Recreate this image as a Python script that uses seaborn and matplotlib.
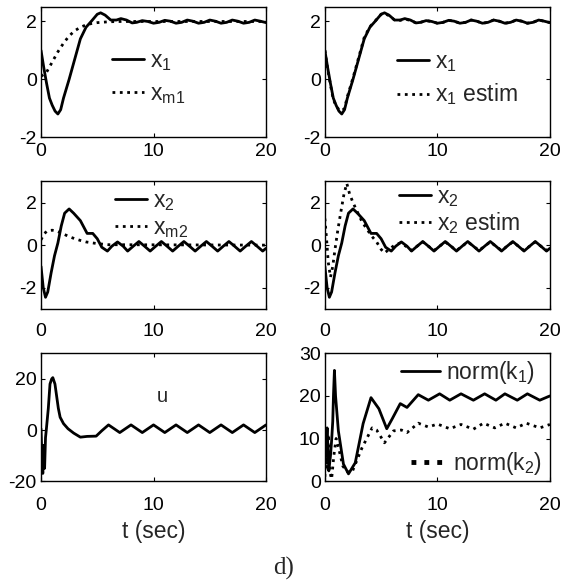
import matplotlib
matplotlib.use("Agg")
import matplotlib.pyplot as plt
import seaborn as sns
from matplotlib.lines import Line2D

# ---- data ----
# x1 and its estimate (top row)
t_x1 = [0, 0.25, 0.5, 0.75, 1.0, 1.25, 1.5, 1.75, 2.0, 2.5, 3.0, 3.5, 4.0, 4.5, 5.0, 5.3,
        5.7, 6.2, 6.7, 7.1, 7.6, 8.1, 8.5, 9.0, 9.5, 10.0, 10.5, 11.0, 11.5, 12.0, 12.5,
        13.0, 13.5, 14.0, 14.5, 15.0, 15.5, 16.0, 16.5, 17.0, 17.5, 18.0, 18.5, 19.0, 19.5, 20.0]
x1 = [1.0, 0.4, -0.15, -0.65, -0.9, -1.1, -1.2, -1.05, -0.65, 0.0, 0.7, 1.4, 1.8, 2.02, 2.25, 2.3,
      2.22, 2.05, 2.05, 2.1, 2.05, 1.95, 1.97, 2.03, 2.0, 1.94, 1.97, 2.04, 2.01, 1.94, 1.97,
      2.05, 2.01, 1.94, 1.97, 2.05, 2.01, 1.94, 1.97, 2.05, 2.01, 1.94, 1.97, 2.05, 2.01, 1.96]
x1_est = [1.0, 0.35, -0.2, -0.7, -0.92, -1.05, -1.1, -1.0, -0.6, 0.05, 0.75, 1.45, 1.82, 2.03, 2.25, 2.28,
          2.2, 2.05, 2.04, 2.08, 2.04, 1.95, 1.97, 2.03, 2.0, 1.94, 1.97, 2.04, 2.01, 1.94, 1.97,
          2.05, 2.01, 1.94, 1.97, 2.05, 2.01, 1.94, 1.97, 2.05, 2.01, 1.94, 1.97, 2.05, 2.01, 1.96]
t_xm1 = [0, 0.5, 1.0, 1.5, 2.0, 2.5, 3.0, 3.5, 4.0, 4.5, 5.0, 6.0, 7.0, 20.0]
xm1 = [0.1, 0.25, 0.6, 0.95, 1.25, 1.5, 1.68, 1.8, 1.88, 1.93, 1.96, 1.99, 2.0, 2.0]

# x2 and its estimate (middle row)
t_x2 = [0, 0.2, 0.4, 0.6, 0.9, 1.2, 1.5, 1.8, 2.1, 2.5, 2.9, 3.5, 4.1, 4.6, 5.0, 5.4, 5.9,
        6.3, 6.8, 7.3, 7.7, 8.2, 8.7, 9.2, 9.7, 10.2, 10.7, 11.2, 11.7, 12.2, 12.7, 13.2,
        13.7, 14.2, 14.7, 15.2, 15.7, 16.2, 16.7, 17.2, 17.7, 18.2, 18.7, 19.2, 19.7, 20.0]
x2 = [-1.0, -2.0, -2.45, -2.2, -1.3, -0.5, 0.1, 0.9, 1.5, 1.7, 1.5, 1.15, 0.55, 0.55, 0.3, -0.1, -0.28,
      -0.05, 0.15, -0.05, -0.28, -0.05, 0.17, -0.05, -0.28, -0.05, 0.17, -0.05, -0.28, -0.05, 0.17, -0.05,
      -0.28, -0.05, 0.17, -0.05, -0.28, -0.05, 0.17, -0.05, -0.28, -0.05, 0.17, -0.05, -0.28, -0.15]
t_xm2 = [0, 0.3, 0.6, 1.0, 1.4, 2.0, 2.5, 3.0, 3.5, 4.0, 5.0, 6.0, 20.0]
xm2 = [0.25, 0.55, 0.68, 0.7, 0.66, 0.52, 0.4, 0.3, 0.22, 0.15, 0.07, 0.02, 0.0]
t_x2e = [0, 0.15, 0.3, 0.5, 0.7, 0.9, 1.15, 1.4, 1.7, 1.95, 2.2, 2.5, 2.85, 3.3, 3.8, 4.2, 4.6,
         5.0, 5.3, 5.7, 6.2, 6.7, 7.2, 7.7, 8.2, 8.7, 9.2, 9.7, 10.2, 10.7, 11.2, 11.7, 12.2,
         12.7, 13.2, 13.7, 14.2, 14.7, 15.2, 15.7, 16.2, 16.7, 17.2, 17.7, 18.2, 18.7, 19.2, 19.7, 20.0]
x2_est = [1.25, 0.3, -0.8, -1.5, -1.0, -0.2, 0.7, 1.5, 2.4, 2.9, 2.4, 2.0, 1.6, 1.1, 0.7, 0.4, 0.15,
          -0.2, -0.37, -0.2, 0.0, 0.1, -0.05, -0.25, -0.05, 0.15, -0.05, -0.25, -0.05, 0.15, -0.05, -0.25, -0.05,
          0.15, -0.05, -0.25, -0.05, 0.15, -0.05, -0.25, -0.05, 0.15, -0.05, -0.25, -0.05, 0.15, -0.05, -0.25, -0.12]

# control input u (bottom left)
t_u = [0, 0.08, 0.16, 0.24, 0.32, 0.4, 0.48, 0.65, 0.8, 0.95, 1.05, 1.24, 1.54, 1.7, 2.0, 2.4, 2.9,
       3.5, 4.1, 4.9, 5.4, 6.0, 6.5, 7.0, 7.5, 8.0, 8.5, 9.0, 9.5, 10.0, 10.5, 11.0, 11.5, 12.0,
       12.5, 13.0, 13.5, 14.0, 14.5, 15.0, 15.5, 16.0, 16.5, 17.0, 17.5, 18.0, 18.5, 19.0, 19.5, 20.0]
u = [0.5, -10, -17, -6, -15, -3, 0.5, 8.5, 18, 20, 20.5, 18, 8.5, 5, 2.5, 0.5, -1.2,
     -2.8, -2.5, -2.4, -0.3, 2.0, 0.5, -1.0, 0.5, 2.0, 0.5, -1.0, 0.5, 2.0, 0.5, -1.0, 0.5, 2.0,
     0.5, -1.0, 0.5, 2.0, 0.5, -1.0, 0.5, 2.0, 0.5, -1.0, 0.5, 2.0, 0.5, -1.0, 0.5, 2.0]

# gain norms (bottom right)
t_k1 = [0, 0.1, 0.2, 0.35, 0.5, 0.6, 0.7, 0.77, 0.85, 0.95, 1.2, 1.65, 2.1, 2.7, 3.4, 4.1, 4.8,
        5.5, 6.0, 6.7, 7.3, 8.3, 9.2, 10.2, 11.1, 12.1, 13.2, 14.2, 15.2, 16.0, 17.1, 18.0, 19.1, 20.0]
k1 = [3, 8, 12.5, 2.4, 6, 9.5, 14, 20.5, 26, 20, 11.8, 4, 1.7, 4.3, 13.5, 19.6, 17,
      12.3, 14.7, 18.2, 17.3, 20.3, 19, 20.5, 19, 20.5, 19, 20.5, 19, 20.5, 19, 20.5, 19, 20]
t_k2 = [0, 0.1, 0.2, 0.3, 0.45, 0.6, 0.8, 1.0, 1.2, 1.6, 2.0, 2.4, 3.3, 4.2, 4.6, 5.3, 6.1, 6.8,
        7.3, 8.3, 9.2, 10.0, 11.1, 12.1, 13.2, 14.1, 15.1, 16.0, 17.0, 17.9, 19.1, 20.0]
k2 = [1, 8, 3, 11, 2, 0.5, 6, 10, 8, 3.5, 2.2, 2.0, 7.8, 12.5, 12, 9, 11.8, 12,
      11.4, 13.6, 12.7, 13.4, 12.3, 13.3, 12.2, 13.6, 12.5, 13.6, 12.5, 13.6, 12.5, 13.3]

sns.set_style("ticks")
plt.rcParams["font.family"] = ["Liberation Sans", "DejaVu Sans"]
plt.rcParams["mathtext.default"] = "regular"
plt.rcParams["axes.unicode_minus"] = False

fig = plt.figure(figsize=(5.64, 5.86), dpi=100)

lefts = [0.0727, 0.576]
w = 0.399
rows = [(0.766, 0.222, 4.5), (0.4727, 0.218, 10), (0.179, 0.218, 11.5)]


def make_ax(col, row):
    b, h, pad = rows[row]
    ax = fig.add_axes([lefts[col], b, w, h])
    ax.set_xlim(0, 20)
    ax.set_xticks([0, 10, 20])
    ax.tick_params(axis="both", direction="in", top=True, right=True, length=3,
                   width=0.8, labelsize=14, colors="black")
    ax.tick_params(axis="x", pad=pad)
    ax.tick_params(axis="y", pad=3)
    for s in ax.spines.values():
        s.set_linewidth(1.0)
        s.set_color("black")
    return ax


def curve(ax, t, y, ls="-"):
    sns.lineplot(x=t, y=y, ax=ax, color="black", lw=2, linestyle=ls,
                 estimator=None, sort=False)


def leg(ax, labels, styles, x, y, spacing, lws=None, hl=1.4):
    lws = lws or [2] * len(styles)
    handles = [Line2D([], [], color="black", lw=lw, linestyle=s) for s, lw in zip(styles, lws)]
    lg = ax.legend(handles, labels, loc="center left", bbox_to_anchor=(x, y),
                   frameon=False, fontsize=16.5, handlelength=hl, handletextpad=0.25,
                   labelspacing=spacing, borderpad=0, borderaxespad=0)
    return lg


# top left
ax = make_ax(0, 0)
curve(ax, t_x1, x1)
curve(ax, t_xm1, xm1, ":")
ax.set_ylim(-2, 2.5)
ax.set_yticks([-2, 0, 2])
leg(ax, ["$x_1$", "$x_{m1}$"], ["-", ":"], 0.316, 0.458, 0.4)

# top right
ax = make_ax(1, 0)
curve(ax, t_x1, x1)
curve(ax, t_x1, x1_est, ":")
ax.set_ylim(-2, 2.5)
ax.set_yticks([-2, 0, 2])
leg(ax, ["$x_1$", "$x_1$ estim"], ["-", ":"], 0.32, 0.45, 0.35)

# middle left
ax = make_ax(0, 1)
curve(ax, t_x2, x2)
curve(ax, t_xm2, xm2, ":")
ax.set_ylim(-3, 3)
ax.set_yticks([-2, 0, 2])
leg(ax, ["$x_2$", "$x_{m2}$"], ["-", ":"], 0.33, 0.74, 0.1)

# middle right
ax = make_ax(1, 1)
curve(ax, t_x2, x2)
curve(ax, t_x2e, x2_est, ":")
ax.set_ylim(-3, 3)
ax.set_yticks([-2, 0, 2])
leg(ax, ["$x_2$", "$x_2$ estim"], ["-", ":"], 0.33, 0.77, 0.05)

# bottom left
ax = make_ax(0, 2)
curve(ax, t_u, u)
ax.set_ylim(-20, 30)
ax.set_yticks([-20, 0, 20])
ax.text(0.54, 0.66, "u", transform=ax.transAxes, fontsize=14.5, ha="center", va="center")
ax.set_xlabel("t (sec)", fontsize=16.5, labelpad=4)

# bottom right
ax = make_ax(1, 2)
curve(ax, t_k1, k1)
curve(ax, t_k2, k2, ":")
ax.set_ylim(0, 30)
ax.set_yticks([0, 10, 20, 30])
lg1 = leg(ax, ["norm(k$_1$)"], ["-"], 0.34, 0.85, 0.1, hl=1.7)
ax.add_artist(lg1)
leg(ax, ["norm(k$_2$)"], [":"], 0.384, 0.14, 0.1, lws=[3.5], hl=1.55)
ax.set_xlabel("t (sec)", fontsize=16.5, labelpad=4)

fig.text(0.502, 0.03, "d)", family=["Liberation Serif", "DejaVu Serif"], fontsize=18,
         ha="center", va="center")

fig.savefig("out.png", dpi=100)
